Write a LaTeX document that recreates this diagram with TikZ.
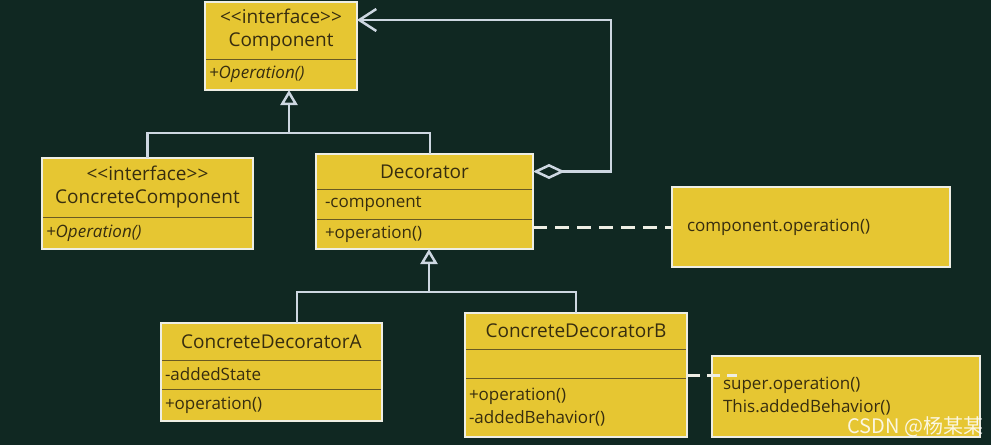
\documentclass[tikz,border=0pt]{standalone}
\usepackage{fontspec}
\setmainfont{Open Sans}
\newfontfamily\cjkfont{Noto Sans CJK SC}
\usepackage{xcolor}
\definecolor{fondo}{RGB}{16,40,34}
\definecolor{umlyellow}{RGB}{230,198,50}
\definecolor{divline}{RGB}{105,90,35}
\definecolor{frameline}{RGB}{238,238,228}
\definecolor{linkline}{RGB}{205,215,225}
\definecolor{umltext}{RGB}{55,45,15}
\usepackage{tikz}
\usetikzlibrary{positioning,arrows.meta}

\begin{document}
\begin{tikzpicture}[x=1pt,y=-1pt,font=\fontsize{17}{23}\selectfont,text=umltext,
  part/.style={fill=umlyellow,draw=divline,line width=1pt,inner xsep=4pt,inner ysep=0pt,outer sep=0pt},
  titlepart/.style={part,align=center,font=\fontsize{19}{23}\selectfont},
  frame/.style={draw=frameline,line width=2pt},
  note/.style={fill=umlyellow,draw=frameline,line width=2pt,inner ysep=0pt,outer sep=0pt,align=left},
  link/.style={draw=linkline,line width=2.5pt},
  inherit/.style={link,-{Triangle[open,fill=fondo,length=15pt,width=17pt]}},
  aggr/.style={link,{Diamond[open,fill=fondo,length=32pt,width=15pt]}-{Straight Barb[length=17pt,width=22pt]}},
  dashlink/.style={draw=frameline,line width=3pt,dash pattern=on 14pt off 8pt}]
  % Fondo y marco de la figura
  \fill[fondo] (0,0) rectangle (991,445);
  \useasboundingbox (0,0) rectangle (991,445);
  % Component
  \node[titlepart,anchor=north west,text width=144pt,minimum height=57pt] (comptitle) at (205,2) {<{}<interface>{}>\\Component};
  \node[part,below=0pt of comptitle,text width=144pt,minimum height=31pt,align=left] (compops) {\itshape +Operation()};
  \draw[frame] (comptitle.north west) rectangle (compops.south east);
  % ConcreteComponent
  \node[titlepart,anchor=north west,text width=203pt,minimum height=59pt] (cctitle) at (42,158) {<{}<interface>{}>\\ConcreteComponent};
  \node[part,below=0pt of cctitle,text width=203pt,minimum height=32pt,align=left] (ccops) {\itshape +Operation()};
  \draw[frame] (cctitle.north west) rectangle (ccops.south east);
  % Decorator
  \node[titlepart,anchor=north west,text width=209pt,minimum height=35pt] (dectitle) at (316,154) {Decorator};
  \node[part,below=0pt of dectitle,inner xsep=9pt,text width=199pt,minimum height=30pt,align=left] (decattr) {-component};
  \node[part,below=0pt of decattr,inner xsep=9pt,text width=199pt,minimum height=30pt,align=left] (decops) {+operation()};
  \draw[frame] (dectitle.north west) rectangle (decops.south east);
  % ConcreteDecoratorA
  \node[titlepart,anchor=north west,text width=213pt,minimum height=37pt] (cdatitle) at (161,323) {ConcreteDecoratorA};
  \node[part,below=0pt of cdatitle,text width=213pt,minimum height=29pt,align=left] (cdaattr) {-addedState};
  \node[part,below=0pt of cdaattr,text width=213pt,minimum height=32pt,align=left] (cdaops) {+operation()};
  \draw[frame] (cdatitle.north west) rectangle (cdaops.south east);
  % ConcreteDecoratorB
  \node[titlepart,anchor=north west,text width=214pt,minimum height=36pt] (cdbtitle) at (465,313) {ConcreteDecoratorB};
  \node[part,below=0pt of cdbtitle,text width=214pt,minimum height=29pt,align=left] (cdbattr) {};
  \node[part,below=0pt of cdbattr,text width=214pt,minimum height=59pt,align=left] (cdbops) {+operation()\\-addedBehavior()};
  \draw[frame] (cdbtitle.north west) rectangle (cdbops.south east);
  % Notas
  \node[note,anchor=north west,inner xsep=15pt,text width=248pt,minimum height=80pt] (note1) at (672,187) {component.operation()};
  \node[note,anchor=north west,inner xsep=11pt,text width=246pt,minimum height=81pt] (note2) at (712,356) {super.operation()\\This.addedBehavior()};
  % Herencia hacia Component
  \coordinate (jcomp) at (289,133);
  \coordinate (jdec) at (430,133);
  \draw[link] (jdec |- dectitle.north) -- (jdec) -- (jcomp);
  \draw[inherit] (cctitle.north) |- (jcomp) -- (jcomp |- compops.south);
  % Agregacion Decorator -> Component
  \coordinate (aggcorner) at (611,20);
  \draw[aggr] (dectitle.east) -| (aggcorner) -- (aggcorner -| comptitle.east);
  % Herencia hacia Decorator
  \coordinate (jcd) at (429,292);
  \coordinate (cdaup) at (297,292);
  \coordinate (cdbup) at (576,292);
  \draw[link] (cdaup |- cdatitle.north) -- (cdaup) -- (cdbup) -- (cdbup |- cdbtitle.north);
  \draw[inherit] (jcd) -- (jcd |- decops.south);
  % Enlaces a las notas
  \draw[dashlink] (decops.east |- note1.west) -- (note1.west);
  \coordinate (cdbnote) at (737,375);
  \draw[dashlink,dash pattern=on 13pt off 7pt] (cdbnote -| cdbops.east) -- (cdbnote);
  % Marca de agua
  \node[font=\cjkfont\fontsize{20}{22}\selectfont,text=white,opacity=0.85,anchor=east] (marca) at (987,427) {CSDN @杨某某};
\end{tikzpicture}
\end{document}
